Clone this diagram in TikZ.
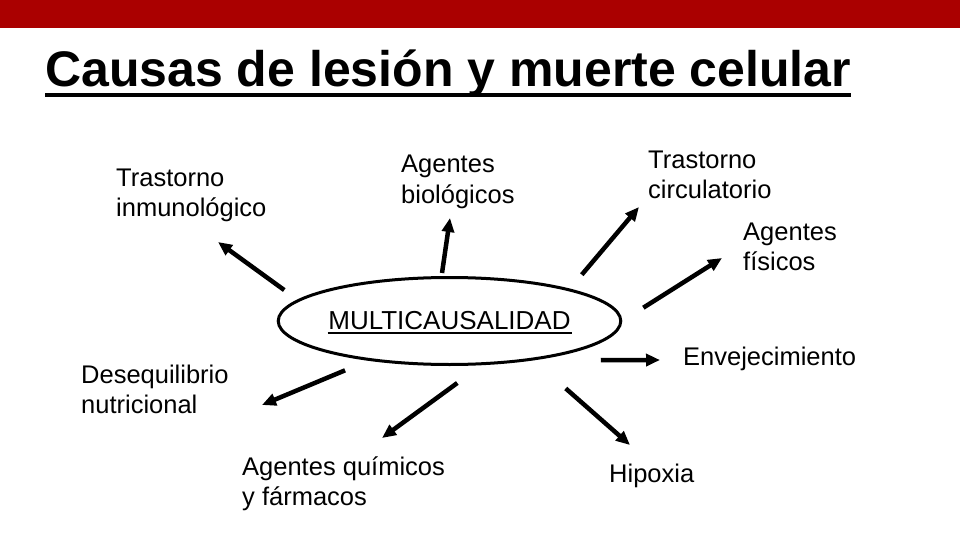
\documentclass[tikz,border=0pt]{standalone}
\usepackage{fontspec}
\setmainfont{Liberation Sans}
\usetikzlibrary{arrows.meta,shapes.geometric}
\definecolor{barred}{RGB}{170,0,0}

\begin{document}
\begin{tikzpicture}[x=1pt,y=-1pt,
            link/.style={line width=4.5pt,-{Triangle[length=14pt,width=12pt]}},
            causa/.style={anchor=base west,inner sep=0pt,align=left,font=\fontsize{25.5}{30}\selectfont}]
            \useasboundingbox (0,0) rectangle (960,540);
            \fill[barred] (0,0) rectangle (960,28);

            \node[anchor=base west,inner sep=0pt,font=\fontsize{50}{60}\selectfont\bfseries] (title) at (45,87) {Causas de lesión y muerte celular};
            \draw[line width=4pt] ([yshift=-8pt]title.base west) -- ([yshift=-8pt]title.base east);

            \node[draw,ellipse,line width=3pt,minimum width=332pt,minimum height=87pt,inner sep=0pt,
                font=\fontsize{26}{30}\selectfont] (multi) at (449.5,321) {MULTICAUSALIDAD};
            \draw[line width=1.5pt] ([xshift=-122pt,yshift=-3pt]multi.base) -- ([xshift=122pt,yshift=-3pt]multi.base);

            % base = baseline of the last line
            \node[causa] (inmuno) at (116,216) {Trastorno\\inmunológico};
            \node[causa] (biolog) at (401,203) {Agentes\\biológicos};
            \node[causa] (circul) at (648,198) {Trastorno\\circulatorio};
            \node[causa] (fisico) at (743,270) {Agentes\\físicos};
            \node[causa] (envejec) at (683,365) {Envejecimiento};
            \node[causa] (hipox) at (609,482) {Hipoxia};
            \node[causa] (quimic) at (242,505) {Agentes químicos\\y fármacos};
            \node[causa] (desequ) at (81,413) {Desequilibrio\\nutricional};

            \coordinate (inmuno-tip) at (218,242);
            \coordinate (biolog-tip) at (450,218);
            \coordinate (circul-tip) at (639,207);
            \coordinate (fisico-tip) at (722,258);
            \coordinate (envejec-tip) at (660,360);
            \coordinate (hipox-tip) at (630,445);
            \coordinate (quimic-tip) at (382,438);
            \coordinate (desequ-tip) at (262,405);

            \draw[link,shorten <=16.3pt] (multi.172.8) -- (inmuno-tip);
            \draw[link,shorten <=3.1pt] (multi.100) -- (biolog-tip);
            \draw[link,shorten <=18.4pt] (multi.15.5) -- (circul-tip);
            \draw[link,shorten <=24.9pt] (multi.-0.7) -- (fisico-tip);
            \draw[link,shorten <=67pt] (multi.-25) -- (envejec-tip);
            \draw[link,shorten <=42.6pt] (multi.-25.9) -- (hipox-tip);
            \draw[link,shorten <=30.1pt] (multi.-54.3) -- (quimic-tip);
            \draw[link,shorten <=25pt] (multi.-154.25) -- (desequ-tip);
        \end{tikzpicture}
\end{document}
